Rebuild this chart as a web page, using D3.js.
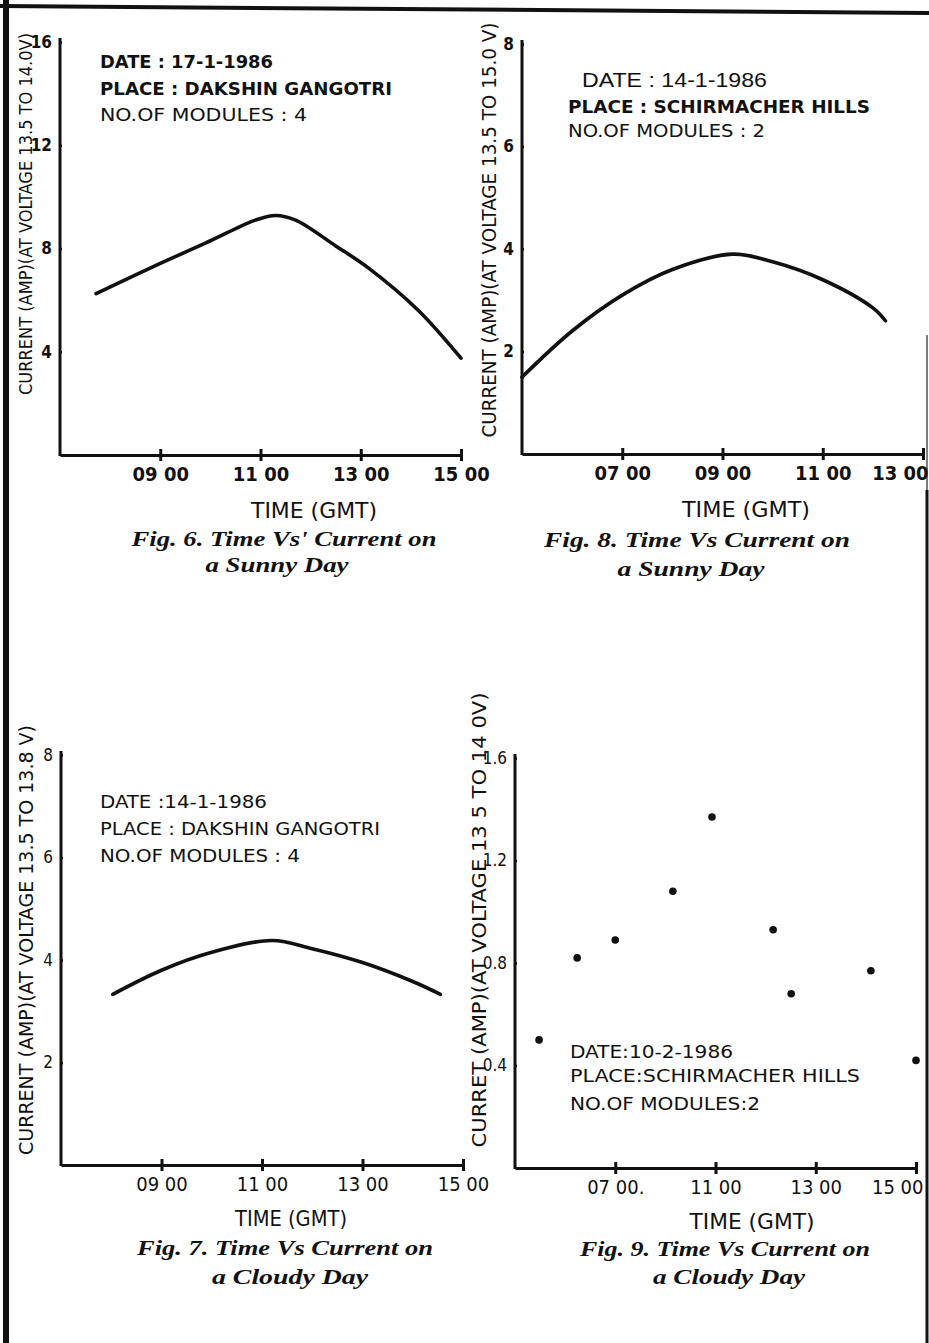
<!DOCTYPE html>
<html>
<head>
<meta charset="utf-8">
<script src="https://cdn.jsdelivr.net/npm/d3@7"></script>
<style>
body{margin:0;background:#fff;}
svg text{fill:#111;}
.lbl{font-family:"DejaVu Sans Condensed","Liberation Sans Narrow",sans-serif;}
.sans{font-family:"Liberation Sans",Arial,sans-serif;}
.cap{font-family:"Liberation Serif",serif;font-style:italic;font-weight:bold;}
</style>
</head>
<body>
<svg id="page" width="929" height="1343"></svg>
<script>
// Fig 6 - sunny day, Dakshin Gangotri (hours GMT, amps)
var fig6Time = [7.72, 9, 10, 10.9, 11.3, 11.7, 12.5, 13.15, 14.15, 15];
var fig6Amp  = [6.25, 7.42, 8.3, 9.1, 9.28, 9.1, 8.1, 7.25, 5.6, 3.75];

// Fig 8 - sunny day, Schirmacher Hills
var fig8Time = [5, 6, 7, 8, 9.2, 10, 11, 12, 12.25];
var fig8Amp  = [1.5, 2.4, 3.1, 3.6, 3.9, 3.75, 3.4, 2.85, 2.6];

// Fig 7 - cloudy day, Dakshin Gangotri
var fig7Time = [8.03, 9, 10, 11.2, 12, 13, 14, 14.55];
var fig7Amp  = [3.33, 3.8, 4.15, 4.38, 4.22, 3.95, 3.58, 3.33];

// Fig 9 - cloudy day, Schirmacher Hills (scattered readings)
var fig9Time = [7.48, 8.24, 9.0, 10.15, 10.93, 12.15, 12.51, 14.1, 15.0];
var fig9Amp  = [0.50, 0.82, 0.89, 1.08, 1.37, 0.93, 0.68, 0.77, 0.42];

// axis ticks
var ticksLate   = [9, 11, 13, 15];
var labelsLate  = ["09 00", "11 00", "13 00", "15 00"];
var ticksEarly  = [7, 9, 11, 13];
var labelsEarly = ["07 00", "09 00", "11 00", "13 00"];
var labelsFig9  = ["07 00.", "11 00", "13 00", "15 00"];

var yTicks16 = [4, 8, 12, 16];
var yTicks8  = [2, 4, 6, 8];
var yTicks16s = [0.4, 0.8, 1.2, 1.6];

var svg = d3.select("#page");

function zip(a, b){
	var out = [];
	for(var i=0;i<a.length;i++){ out.push([a[i], b[i]]); }
	return out;
}

function Panel(opt){
	var g = svg.append("g");
	var x = d3.scaleLinear().domain(opt.xDomain).range([opt.left, opt.right]);
	var y = d3.scaleLinear().domain(opt.yDomain).range([opt.bottom, opt.top]);
	var weight = opt.tickBold ? "bold" : "normal";

	// y axis
	var yAxis = d3.axisLeft(y)
		.tickValues(opt.yTicks)
		.tickFormat(function(d){ return String(d); })
		.tickSizeOuter(0).tickSizeInner(7).tickPadding(1);
	var gy = g.append("g").attr("class","lbl")
		.attr("transform","translate("+opt.left+",0)")
		.call(yAxis);
	gy.select(".domain").attr("stroke","#111").attr("stroke-width",3)
		.attr("d","M0,"+(opt.bottom+1)+"V"+(opt.top-4));
	gy.selectAll(".tick line").attr("stroke","#111").attr("stroke-width",2.5).attr("x2",2);
	gy.selectAll(".tick text").attr("font-size",17).attr("font-weight",weight).attr("fill","#111");

	// x axis
	var xAxis = d3.axisBottom(x)
		.tickValues(opt.xTicks)
		.tickFormat(function(d,i){ return opt.xLabels[i]; })
		.tickSizeOuter(0).tickSizeInner(5).tickPadding(7);
	var gx = g.append("g").attr("class","lbl")
		.attr("transform","translate(0,"+opt.bottom+")")
		.call(xAxis);
	gx.select(".domain").attr("stroke","#111").attr("stroke-width",3);
	gx.selectAll(".tick line").attr("stroke","#111").attr("stroke-width",3).attr("y1",-6).attr("y2",6);
	gx.selectAll(".tick text").attr("font-size",20).attr("font-weight",weight).attr("fill","#111");
	if(opt.lastLabelShift){
		// last label sits against the page edge in the scan
		gx.selectAll(".tick text").filter(function(d,i,n){ return i === n.length-1; })
			.attr("text-anchor","end").attr("x",opt.lastLabelShift);
	}

	// y axis title
	g.append("text").attr("class","lbl")
		.attr("transform","translate("+opt.yTitleX+","+opt.yTitleY+") rotate(-90)")
		.attr("text-anchor","middle")
		.attr("font-size",opt.yTitleSize || 20)
		.attr("textLength",opt.yTitleLen).attr("lengthAdjust","spacingAndGlyphs")
		.text(opt.yTitle);

	// x axis title
	g.append("text").attr("class","lbl")
		.attr("x",opt.xTitleX).attr("y",opt.xTitleY)
		.attr("text-anchor","middle").attr("font-size",21)
		.attr("textLength",opt.xTitleLen).attr("lengthAdjust","spacingAndGlyphs")
		.text("TIME  (GMT)");

	// caption
	g.selectAll(".cap-line").data(opt.caption).enter()
		.append("text").attr("class","cap")
		.attr("x",function(d,i){ return opt.capX[i]; })
		.attr("y",function(d,i){ return opt.capY[i]; })
		.attr("text-anchor","middle").attr("font-size",21)
		.attr("textLength",function(d,i){ return opt.capLen[i]; })
		.attr("lengthAdjust","spacingAndGlyphs")
		.text(function(d){ return d; });

	// notes
	g.selectAll(".note").data(opt.notes).enter()
		.append("text")
		.attr("class",function(d,i){ return opt.noteSans && opt.noteSans[i] ? "sans" : "lbl"; })
		.attr("x",function(d,i){ return opt.noteX[i]; })
		.attr("y",function(d,i){ return opt.noteY[i]; })
		.attr("font-size",function(d,i){ return opt.noteSans && opt.noteSans[i] ? 20 : 18.5; })
		.attr("font-weight",function(d,i){ return opt.noteBold[i] ? "bold" : "normal"; })
		.attr("textLength",function(d,i){ return opt.noteLen[i]; })
		.attr("lengthAdjust","spacingAndGlyphs")
		.text(function(d){ return d; });

	var pts = zip(opt.time, opt.amp);
	if(opt.dots){
		g.selectAll(".dot").data(pts).enter()
			.append("circle")
			.attr("cx",function(d){ return x(d[0]); })
			.attr("cy",function(d){ return y(d[1]); })
			.attr("r",3.8).attr("fill","#111");
	}else{
		var line = d3.line()
			.x(function(d){ return x(d[0]); })
			.y(function(d){ return y(d[1]); })
			.curve(d3.curveCatmullRom.alpha(0.5));
		g.append("path").datum(pts)
			.attr("d",line).attr("fill","none")
			.attr("stroke","#111").attr("stroke-width",3.6)
			.attr("stroke-linecap","round").attr("stroke-linejoin","round");
	}
}

// scanned page edges
svg.append("line").attr("x1",6).attr("y1",0).attr("x2",6).attr("y2",1343)
	.attr("stroke","#111").attr("stroke-width",6);
svg.append("line").attr("x1",0).attr("y1",6).attr("x2",929).attr("y2",13)
	.attr("stroke","#111").attr("stroke-width",4);
svg.append("line").attr("x1",927).attr("y1",335).attr("x2",927).attr("y2",490)
	.attr("stroke","#555").attr("stroke-width",1.5);
svg.append("line").attr("x1",927).attr("y1",490).attr("x2",927).attr("y2",1343)
	.attr("stroke","#111").attr("stroke-width",3);

Panel({
	time: fig6Time, amp: fig6Amp, tickBold:true,
	xDomain:[7,15], left:60, right:461, xTicks:ticksLate, xLabels:labelsLate,
	yDomain:[0,16], bottom:455, top:42, yTicks:yTicks16,
	yTitle:"CURRENT (AMP)(AT VOLTAGE 13.5 TO 14.0V)", yTitleX:32, yTitleY:214, yTitleLen:362, yTitleSize:18,
	xTitleX:314, xTitleY:518, xTitleLen:126,
	caption:["Fig. 6.  Time Vs' Current  on", "a Sunny Day"],
	capX:[284, 277], capY:[546, 572], capLen:[305, 143],
	notes:["DATE : 17-1-1986", "PLACE : DAKSHIN  GANGOTRI", "NO.OF  MODULES : 4"],
	noteX:[100,100,100], noteY:[68,95,121], noteLen:[173,292,207], noteBold:[true,true,false]
});

Panel({
	time: fig8Time, amp: fig8Amp, tickBold:true, lastLabelShift:5,
	xDomain:[5,13], left:522, right:923, xTicks:ticksEarly, xLabels:labelsEarly,
	yDomain:[0,8], bottom:454, top:44, yTicks:yTicks8,
	yTitle:"CURRENT (AMP)(AT VOLTAGE 13.5 TO 15.0 V)", yTitleX:496, yTitleY:230, yTitleLen:415,
	xTitleX:746, xTitleY:517, xTitleLen:128,
	caption:["Fig. 8.  Time Vs  Current   on", "a Sunny Day"],
	capX:[697, 691], capY:[547, 576], capLen:[306, 147],
	notes:["DATE : 14-1-1986", "PLACE : SCHIRMACHER  HILLS", "NO.OF  MODULES : 2"],
	noteX:[582,568,568], noteY:[87,113,137], noteLen:[185,302,197], noteBold:[false,true,false],
	noteSans:[true,false,false]
});

Panel({
	time: fig7Time, amp: fig7Amp,
	xDomain:[7,15], left:61, right:463, xTicks:ticksLate, xLabels:labelsLate,
	yDomain:[0,8], bottom:1165, top:755, yTicks:yTicks8,
	yTitle:"CURRENT (AMP)(AT VOLTAGE 13.5 TO 13.8 V)", yTitleX:33, yTitleY:940, yTitleLen:430,
	xTitleX:291, xTitleY:1226, xTitleLen:112,
	caption:["Fig. 7.  Time Vs Current  on", "a Cloudy Day"],
	capX:[285, 290], capY:[1255, 1284], capLen:[296, 156],
	notes:["DATE :14-1-1986", "PLACE : DAKSHIN  GANGOTRI", "NO.OF  MODULES : 4"],
	noteX:[100,100,100], noteY:[808,835,862], noteLen:[167,280,200], noteBold:[false,false,false]
});

Panel({
	time: fig9Time, amp: fig9Amp, dots:true, lastLabelShift:7,
	xDomain:[7,15], left:515, right:916, xTicks:ticksLate, xLabels:labelsFig9,
	yDomain:[0,1.6], bottom:1168, top:758, yTicks:yTicks16s,
	yTitle:"CURRET (AMP)(AT VOLTAGE 13 5 TO 14 0V)", yTitleX:486, yTitleY:920, yTitleLen:455,
	xTitleX:752, xTitleY:1229, xTitleLen:125,
	caption:["Fig. 9.  Time Vs Current  on", "a Cloudy Day"],
	capX:[725, 729], capY:[1256, 1284], capLen:[290, 152],
	notes:["DATE:10-2-1986", "PLACE:SCHIRMACHER HILLS", "NO.OF MODULES:2"],
	noteX:[570,570,570], noteY:[1058,1082,1110], noteLen:[163,290,190], noteBold:[false,false,false]
});
</script>
</body>
</html>
